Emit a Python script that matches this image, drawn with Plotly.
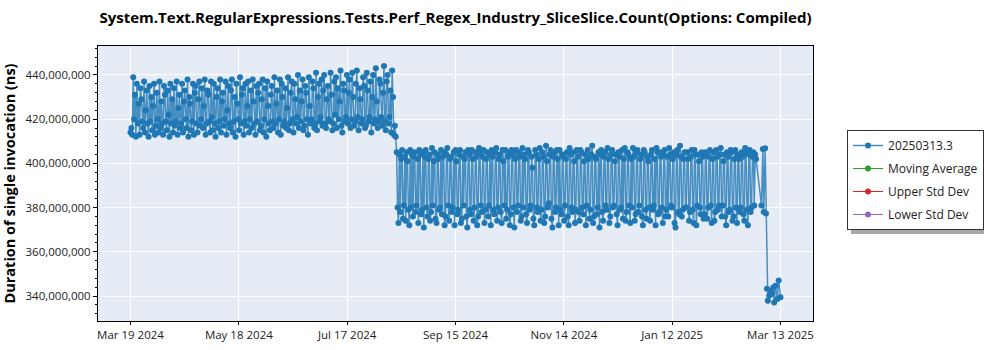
import pandas as pd
import plotly.graph_objects as go

# ---------------- data (values in millions of ns, two runs per day) ----------------
seg_a_start = "2024-03-19 18:00"
seg_a_values = [
    414, 416, 413, 439, 420, 431, 412, 436, 418, 427, 413, 434, 429, 419, 416, 437, 414, 424, 433, 418,
    412, 435, 419, 430, 415, 426, 436, 413, 417, 432, 420, 414, 437, 416, 428, 418, 413, 435, 431, 419,
    415, 433, 422, 412, 436, 418, 429, 414, 434, 417, 419, 437, 413, 425, 431, 416, 418, 436, 414, 428,
    433, 420, 416, 438, 412, 430, 427, 415, 419, 436, 413, 432, 435, 418, 414, 429, 437, 417, 420, 434,
    416, 426, 438, 413, 418, 433, 431, 419, 414, 437, 421, 415, 436, 418, 412, 430, 434, 416, 419, 438,
    414, 428, 432, 417, 420, 437, 413, 424, 435, 418, 416, 433, 438, 414, 419, 430, 412, 436, 427, 420,
    415, 439, 418, 431, 434, 413, 419, 436, 417, 426, 437, 414, 420, 433, 416, 438, 428, 418, 413, 435,
    419, 432, 436, 415, 417, 429, 438, 414, 420, 434, 412, 437, 426, 418, 415, 431, 435, 419, 416, 439,
    418, 427, 433, 414, 420, 438, 413, 436, 430, 417, 419, 434, 416, 425, 439, 415, 418, 432, 437, 420,
    414, 436, 429, 418, 421, 440, 416, 433, 419, 428, 438, 415, 417, 435, 432, 420, 413, 439, 426, 418,
    420, 437, 434, 416, 418, 441, 415, 430, 436, 419, 421, 438, 417, 433, 440, 418, 416, 429, 435, 420,
    419, 441, 431, 415, 418, 437, 422, 439, 416, 434, 420, 428, 442, 417, 414, 436, 433, 419, 421, 440,
    418, 432, 438, 416, 420, 441, 430, 417, 419, 436, 442, 421, 415, 434, 429, 418, 420, 439, 435, 416,
    417, 441, 433, 419, 421, 437, 414, 430, 440, 418, 420, 443, 428, 416, 419, 438, 436, 421, 417, 432,
    444, 419, 415, 437, 440, 418, 421, 433, 414, 442, 430, 413, 417, 412,
]

seg_b_start = "2024-08-13 18:00"
seg_b_values = [
    405, 380, 373, 404, 378, 402, 406, 375, 381, 403, 374, 405, 401, 379, 372, 406, 380, 404, 376, 403,
    405, 378, 381, 402, 373, 406, 404, 377, 379, 405, 371, 403, 406, 380, 376, 402, 404, 374, 378, 407,
    381, 401, 405, 375, 373, 404, 402, 379, 380, 406, 377, 403, 405, 372, 376, 404, 407, 381, 374, 402,
    403, 378, 380, 405, 372, 406, 401, 377, 379, 404, 406, 373, 375, 403, 381, 402, 405, 376, 371, 406,
    404, 379, 377, 406, 402, 374, 380, 405, 403, 372, 376, 407, 405, 381, 378, 403, 406, 373, 379, 402,
    405, 376, 381, 404, 372, 406, 403, 379, 377, 405, 407, 374, 380, 402, 404, 378, 373, 406, 401, 381,
    406, 375, 379, 403, 405, 372, 377, 406, 404, 380, 371, 402, 406, 378, 381, 405, 403, 374, 376, 407,
    380, 404, 402, 377, 373, 406, 405, 379, 381, 403, 398, 375, 372, 406, 404, 380, 378, 402, 407, 374,
    379, 405, 403, 373, 376, 408, 401, 380, 382, 404, 406, 375, 371, 403, 405, 378, 380, 406, 402, 372,
    406, 379, 377, 404, 403, 374, 381, 402, 405, 376, 372, 407, 404, 380, 378, 405, 401, 373, 379, 406,
    403, 378, 374, 406, 405, 380, 377, 401, 404, 372, 381, 406, 402, 375, 379, 404, 408, 373, 376, 403,
    402, 377, 380, 405, 371, 404, 406, 378, 374, 403, 405, 381, 379, 407, 402, 373, 376, 404, 406, 380,
    381, 401, 404, 377, 372, 405, 403, 379, 380, 406, 375, 402, 407, 374, 378, 405, 404, 381, 373, 402,
    380, 407, 403, 374, 377, 405, 406, 378, 381, 402, 404, 376, 372, 406, 405, 379, 375, 403, 401, 380,
    374, 404, 406, 379, 381, 402, 372, 407, 405, 377, 378, 405, 403, 380, 373, 404, 406, 376, 379, 403,
    376, 407, 404, 381, 380, 402, 405, 373, 371, 404, 406, 378, 377, 408, 403, 376, 379, 402, 405, 380,
    380, 405, 402, 374, 378, 403, 406, 379, 373, 406, 404, 372, 381, 404, 401, 380, 377, 405, 403, 375,
    377, 405, 404, 375, 380, 403, 406, 381, 373, 402, 405, 374, 378, 406, 403, 379, 381, 404, 407, 376,
    381, 401, 404, 376, 372, 405, 403, 378, 379, 406, 405, 374, 376, 402, 406, 380, 373, 404, 402, 378,
    380, 405, 403, 377, 374, 407, 405, 379, 372, 404, 406, 378, 380, 403, 405, 381, 404, 402,
]

seg_c_dates = [
    "2025-03-03 06:00", "2025-03-04 00:00", "2025-03-04 12:00", "2025-03-05 06:00",
    "2025-03-05 18:00", "2025-03-06 06:00", "2025-03-06 18:00", "2025-03-07 12:00",
    "2025-03-08 06:00", "2025-03-09 00:00", "2025-03-09 18:00", "2025-03-10 06:00",
    "2025-03-11 00:00", "2025-03-12 00:00", "2025-03-12 18:00", "2025-03-13 18:00",
]
seg_c_values = [
    380.9, 406.5, 378.0, 406.8, 377.3, 343.3, 337.9, 340.1,
    342.4, 340.9, 343.9, 337.1, 344.7, 338.6, 347.0, 339.5,
]

tick_vals = [
    "2024-03-19 18:00", "2024-05-18 14:00", "2024-07-17 10:00", "2024-09-15 06:00",
    "2024-11-14 02:00", "2025-01-12 22:00", "2025-03-13 18:00",
]
tick_text = ["Mar 19 2024", "May 18 2024", "Jul 17 2024", "Sep 15 2024",
             "Nov 14 2024", "Jan 12 2025", "Mar 13 2025"]
x_range = ["2024-03-01 19:12", "2025-03-31 16:48"]
y_range = [328.7e6, 453.1e6]
series_name = "20250313.3"
extra_series = ["Moving Average", "Upper Std Dev", "Lower Std Dev"]
extra_colors = ["#2ca02c", "#d62728", "#9467bd"]

# ---------------- build ----------------
dates_a = list(pd.date_range(seg_a_start, periods=len(seg_a_values), freq="12h"))
dates_b = list(pd.date_range(seg_b_start, periods=len(seg_b_values), freq="12h"))
dates_c = list(pd.to_datetime(seg_c_dates))
x = dates_a + dates_b + dates_c
y = [v * 1e6 for v in seg_a_values + seg_b_values + seg_c_values]

FONT = "Open Sans"
fig = go.Figure()
fig.add_trace(go.Scatter(
    x=x, y=y, mode="lines+markers", name=series_name, legendgroup=series_name,
    line=dict(color="rgba(31,119,180,0.8)", width=1.5),
    marker=dict(color="#1f77b4", size=6),
))
for nm, col in zip(extra_series, extra_colors):
    fig.add_trace(go.Scatter(x=[None], y=[None], mode="lines+markers", name=nm, legendgroup=nm,
                             line=dict(color=col, width=1), marker=dict(color=col, size=6)))

fig.update_layout(
    width=1000, height=350,
    margin=dict(l=98, r=187, t=46, b=29, autoexpand=False),
    paper_bgcolor="white", plot_bgcolor="#E5ECF6",
    font=dict(family=FONT, size=11.5, color="#222"),
    title=dict(text="<b>System.Text.RegularExpressions.Tests.Perf_Regex_Industry_SliceSlice.Count(Options: Compiled)</b>",
               x=0.5, xref="paper", xanchor="center", y=1 - 18 / 350, yanchor="middle",
               font=dict(family=FONT, size=15, color="black")),
    legend=dict(x=1.0476, y=0.6945, xanchor="left", yanchor="top",
                bgcolor="white", bordercolor="#333", borderwidth=1,
                traceorder="grouped", tracegroupgap=4,
                font=dict(family=FONT, size=12, color="#222")),
    showlegend=True,
)
fig.update_xaxes(
    range=x_range, tickvals=tick_vals, ticktext=tick_text, automargin=False,
    showgrid=True, gridcolor="white", gridwidth=1,
    showline=True, linecolor="black", linewidth=1, mirror=True,
    ticks="outside", ticklen=3, tickcolor="black", zeroline=False,
)
fig.update_yaxes(
    range=y_range, dtick=20e6, tick0=0, tickformat=",d", automargin=False,
    showgrid=True, gridcolor="white", gridwidth=1,
    showline=True, linecolor="black", linewidth=1, mirror=True,
    ticks="outside", ticklen=4, tickcolor="black", zeroline=False,
    minor=dict(ticks="outside", ticklen=2, tickcolor="black", dtick=4e6, showgrid=False),
    title=dict(text="<b>Duration of single invocation (ns)</b>", standoff=6,
               font=dict(family=FONT, size=14.5, color="black")),
)
# legend drop shadow
fig.add_shape(type="rect", xref="paper", yref="paper", layer="above",
              x0=(851 - 98) / 715, x1=(984 - 98) / 715,
              y0=(321 - 234) / 275, y1=(321 - 134) / 275,
              fillcolor="#a8a8a8", line=dict(width=0))

fig.write_html("out.html")
